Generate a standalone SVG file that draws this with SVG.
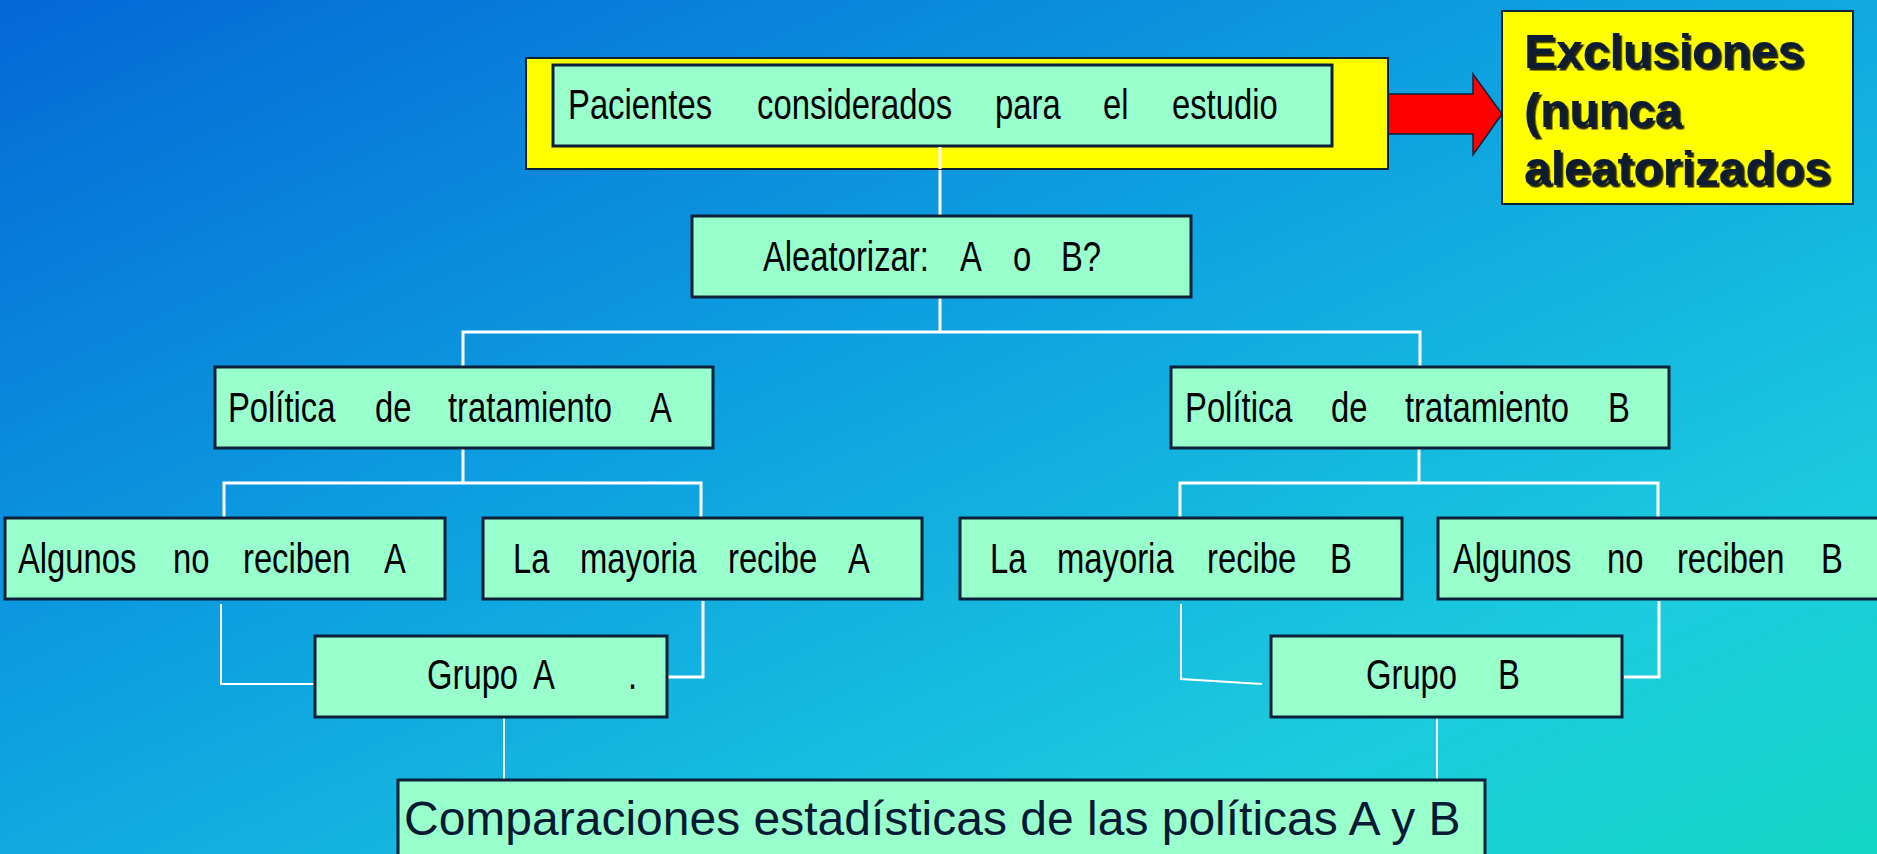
<svg xmlns="http://www.w3.org/2000/svg" width="1877" height="854" viewBox="0 0 1877 854">
  <defs>
    <linearGradient id="bg" x1="0" y1="0" x2="1" y2="1">
      <stop offset="0" stop-color="#0468d6"/>
      <stop offset="0.45" stop-color="#0ea3e0"/>
      <stop offset="0.8" stop-color="#1cccde"/>
      <stop offset="1" stop-color="#13d6c4"/>
    </linearGradient>
    <filter id="shadow" x="-10%" y="-20%" width="120%" height="140%">
      <feDropShadow dx="2.5" dy="2.5" stdDeviation="0" flood-color="#000000" flood-opacity="0.85"/>
    </filter>
    <style>
      .box { fill: #99ffcc; stroke: #0c2038; stroke-width: 3; }
      .yel { fill: #ffff00; stroke: #0c2038; stroke-width: 2; }
      .t { font-family: "Liberation Sans", Arial, sans-serif; font-size: 42px; fill: #000000; }
      .big { font-family: "Liberation Sans", Arial, sans-serif; font-size: 48px; fill: #061a33; }
      .ex { font-family: "Liberation Sans", Arial, sans-serif; font-size: 48px; font-weight: bold; fill: #0a1a33; }
      .c { fill: none; stroke: #ffffff; stroke-width: 3; }
      .c2 { fill: none; stroke: #ffffff; stroke-width: 2; }
    </style>
  </defs>
  <rect x="0" y="0" width="1877" height="854" fill="url(#bg)"/>

  <g id="connectors">
    <line class="c" x1="940" y1="146" x2="940" y2="216"/>
    <line class="c" x1="940" y1="297" x2="940" y2="332"/>
    <polyline class="c" points="463,367 463,332 1420,332 1420,367"/>
    <line class="c" x1="463" y1="448" x2="463" y2="483"/>
    <polyline class="c" points="224,518 224,483 701,483 701,518"/>
    <line class="c" x1="1419" y1="448" x2="1419" y2="483"/>
    <polyline class="c" points="1180,518 1180,483 1658,483 1658,518"/>
    <polyline class="c2" points="221,604 221,684 314,684"/>
    <polyline class="c" points="703,601 703,677 668,677"/>
    <polyline class="c2" points="1181,604 1181,679 1262,684"/>
    <polyline class="c" points="1659,601 1659,677 1624,677"/>
    <line class="c2" x1="504" y1="717" x2="504" y2="780"/>
    <line class="c2" x1="1437" y1="717" x2="1437" y2="780"/>
    <polygon points="1388,94 1473,94 1473,74 1502,114 1473,155 1473,134 1388,134" fill="#ff0000" stroke="#0c2038" stroke-width="1.5"/>
  </g>

  <g id="pacientes">
    <rect class="yel" x="526" y="58" width="862" height="111"/>
    <rect class="box" x="553" y="65" width="779" height="81"/>
    <line class="c" x1="940" y1="147" x2="940" y2="169"/>
    <text class="t" y="119" transform="scale(0.781 1)"><tspan x="727.3">Pacientes</tspan> <tspan x="969.3">considerados</tspan> <tspan x="1274">para</tspan> <tspan x="1412.3">el</tspan> <tspan x="1500.6">estudio</tspan></text>
  </g>

  <g id="exclusiones">
    <rect class="yel" x="1502" y="11" width="351" height="193"/>
    <g filter="url(#shadow)">
      <text class="ex" x="1524" y="68">Exclusiones</text>
      <text class="ex" x="1524" y="127">(nunca</text>
      <text class="ex" x="1524" y="185">aleatorizados</text>
    </g>
  </g>

  <g id="aleatorizar">
    <rect class="box" x="692" y="216" width="499" height="81"/>
    <text class="t" y="271" transform="scale(0.781 1)"><tspan x="976.9">Aleatorizar:</tspan> <tspan x="1229.2">A</tspan> <tspan x="1297.1">o</tspan> <tspan x="1358.5">B?</tspan></text>
  </g>

  <g id="politica-a">
    <rect class="box" x="215" y="367" width="498" height="81"/>
    <text class="t" y="422" transform="scale(0.781 1)"><tspan x="291.9">Política</tspan> <tspan x="480.2">de</tspan> <tspan x="573.6">tratamiento</tspan> <tspan x="832.3">A</tspan></text>
  </g>

  <g id="politica-b">
    <rect class="box" x="1171" y="367" width="498" height="81"/>
    <text class="t" y="422" transform="scale(0.781 1)"><tspan x="1517.3">Política</tspan> <tspan x="1704.2">de</tspan> <tspan x="1799">tratamiento</tspan> <tspan x="2058.9">B</tspan></text>
  </g>

  <g id="algunos-a">
    <rect class="box" x="5" y="518" width="440" height="81"/>
    <text class="t" y="573" transform="scale(0.781 1)"><tspan x="23">Algunos</tspan> <tspan x="221.5">no</tspan> <tspan x="311.1">reciben</tspan> <tspan x="491.7">A</tspan></text>
  </g>

  <g id="mayoria-a">
    <rect class="box" x="483" y="518" width="439" height="81"/>
    <text class="t" y="573" transform="scale(0.781 1)"><tspan x="656.9">La</tspan> <tspan x="742.6">mayoria</tspan> <tspan x="932.1">recibe</tspan> <tspan x="1085.8">A</tspan></text>
  </g>

  <g id="mayoria-b">
    <rect class="box" x="960" y="518" width="442" height="81"/>
    <text class="t" y="573" transform="scale(0.781 1)"><tspan x="1267.6">La</tspan> <tspan x="1353.4">mayoria</tspan> <tspan x="1545.5">recibe</tspan> <tspan x="1702.9">B</tspan></text>
  </g>

  <g id="algunos-b">
    <rect class="box" x="1438" y="518" width="460" height="81"/>
    <text class="t" y="573" transform="scale(0.781 1)"><tspan x="1860.4">Algunos</tspan> <tspan x="2057.6">no</tspan> <tspan x="2147.2">reciben</tspan> <tspan x="2331.6">B</tspan></text>
  </g>

  <g id="grupo-a">
    <rect class="box" x="315" y="636" width="352" height="81"/>
    <text class="t" y="689" transform="scale(0.781 1)"><tspan x="546.7">Grupo</tspan> <tspan x="682.5">A</tspan> <tspan x="804.1">.</tspan></text>
  </g>

  <g id="grupo-b">
    <rect class="box" x="1271" y="636" width="351" height="81"/>
    <text class="t" y="689" transform="scale(0.781 1)"><tspan x="1749">Grupo</tspan> <tspan x="1918.1">B</tspan></text>
  </g>

  <g id="comparaciones">
    <rect class="box" x="398" y="780" width="1087" height="90" stroke-width="2"/>
    <text class="big" x="404" y="835">Comparaciones estadísticas de las políticas A y B</text>
  </g>
</svg>
